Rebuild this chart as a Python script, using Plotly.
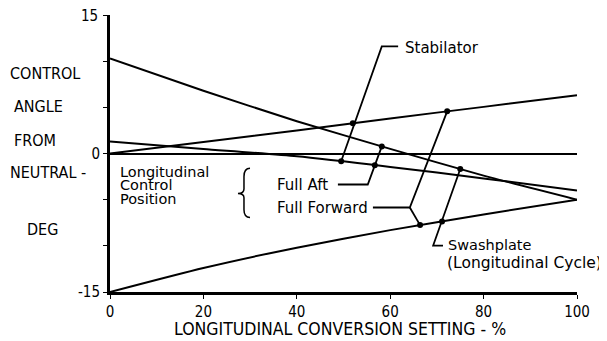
import numpy as np
import plotly.graph_objects as go

# ---- data ----
conversion_pct = [0, 20, 40, 60, 80, 100]
swash_full_aft = [10.3, 6.8, 3.5, 0.5, -2.4, -5.0]
swash_full_fwd = [-15.0, -12.4, -10.2, -8.3, -6.6, -5.0]
stab_full_fwd = [0.0, 1.25, 2.5, 3.8, 5.05, 6.3]
stab_full_aft = [1.3, 0.5, -0.3, -1.45, -2.7, -4.0]

y_tick_vals = [-15, -10, -5, 0, 5, 10, 15]
y_tick_text = ["-15", "", "", "0", "", "", ""]
y_top_label = "15"
x_tick_vals = [0, 20, 40, 60, 80, 100]
x_tick_text = ["0", "20", "40", "60", "80", "100"]

y_title_lines = ["CONTROL", "ANGLE", "FROM", "NEUTRAL -", "DEG"]
x_title = "LONGITUDINAL CONVERSION SETTING - %"

# callout marker x-positions on each curve
stab_label_x = {"fwd": 52.0, "aft": 49.5}
aft_label_x = {"stab": 56.7, "swash": 58.2}
fwd_label_x = {"stab": 72.2, "swash": 66.4}
swash_label_x = {"aft": 75.0, "fwd": 71.1}

NARROW = "Liberation Sans Narrow, DejaVu Sans Condensed, Arial Narrow, sans-serif"
SANS = "DejaVu Sans, Verdana, sans-serif"

def on(series, x):
    return float(np.interp(x, conversion_pct, series))

fig = go.Figure()
for ys in (swash_full_aft, swash_full_fwd, stab_full_fwd, stab_full_aft):
    fig.add_trace(go.Scatter(x=conversion_pct, y=ys, mode="lines",
                             line=dict(color="black", width=2, shape="spline", smoothing=0.6),
                             showlegend=False, hoverinfo="skip"))

# dots where leaders touch the curves
dots = [
    (stab_label_x["fwd"], on(stab_full_fwd, stab_label_x["fwd"])),
    (stab_label_x["aft"], on(stab_full_aft, stab_label_x["aft"])),
    (aft_label_x["stab"], on(stab_full_aft, aft_label_x["stab"])),
    (aft_label_x["swash"], on(swash_full_aft, aft_label_x["swash"])),
    (fwd_label_x["stab"], on(stab_full_fwd, fwd_label_x["stab"])),
    (fwd_label_x["swash"], on(swash_full_fwd, fwd_label_x["swash"])),
    (swash_label_x["aft"], on(swash_full_aft, swash_label_x["aft"])),
    (swash_label_x["fwd"], on(swash_full_fwd, swash_label_x["fwd"])),
]
fig.add_trace(go.Scatter(x=[d[0] for d in dots], y=[d[1] for d in dots], mode="markers",
                         marker=dict(color="black", size=6), showlegend=False,
                         hoverinfo="skip", cliponaxis=False))

def leader(points):
    fig.add_shape(type="path", xref="x", yref="y",
                  path="M " + " L ".join(f"{x},{y}" for x, y in points),
                  line=dict(color="black", width=1.8))

# Stabilator leader
leader([(61.7, 11.6), (58.2, 11.6), dots[1]])
# Full Aft leader
leader([(48.8, -3.36), (55.2, -3.36), dots[3]])
# Full Forward leader
leader([(56.3, -5.85), (64.2, -5.85), dots[4]])
leader([(64.2, -5.85), dots[5]])
# Swashplate leader
leader([(71.3, -9.97), (69.2, -9.97), dots[6]])

# curly brace
fig.add_shape(type="path", xref="x", yref="y",
              path="M 29.98,-1.6 Q 28.69,-1.6 28.69,-2.5 L 28.69,-3.85 "
                   "Q 28.69,-4.33 27.4,-4.33 Q 28.69,-4.33 28.69,-4.8 "
                   "L 28.69,-6.1 Q 28.69,-6.93 29.98,-6.93",
              line=dict(color="black", width=1.5))

def label(text, x, y, size=15, family=SANS, xanchor="left"):
    fig.add_annotation(x=x, y=y, xref="x", yref="y", text=text, showarrow=False,
                       xanchor=xanchor, yanchor="middle",
                       font=dict(family=family, size=size, color="black"))

def plabel(text, x, y, size=17, family=NARROW, xanchor="left"):
    fig.add_annotation(x=x, y=y, xref="paper", yref="paper", text=text, showarrow=False,
                       xanchor=xanchor, yanchor="middle",
                       font=dict(family=family, size=size, color="black"))

label("Stabilator", 62.7, 11.48)
label("Longitudinal", 1.7, -2.0, size=14.5)
label("Control", 1.7, -3.45, size=14.5)
label("Position", 1.7, -4.9, size=14.5)
label("Full Aft", 35.3, -3.36)
label("Full Forward", 35.3, -5.85)
label("Swashplate", 72.0, -9.86, size=14.5)
label("(Longitudinal Cycle)", 71.8, -11.9, size=15.5)

for txt, x, y in zip(y_title_lines,
                     [-0.2184, -0.2099, -0.2099, -0.2184, -0.182],
                     [0.7906, 0.6679, 0.5487, 0.4332, 0.2274]):
    plabel(txt, x, y, size=16)

# top tick label (placed as annotation so it is not dropped at the figure edge)
plabel(y_top_label, -0.021, 0.995, size=15, xanchor="right")

plabel(x_title, 0.4925, -0.135, size=17.5, xanchor="center")

# page body has an 8px margin: shrink the figure and margins to compensate
fig.update_layout(
    width=599, height=333,
    margin=dict(l=102, r=30, t=7, b=49),
    paper_bgcolor="white", plot_bgcolor="white",
    xaxis=dict(range=[0, 100], tickvals=x_tick_vals, ticktext=x_tick_text,
               showline=True, linecolor="black", linewidth=3, showgrid=False,
               zeroline=False, ticks="outside", ticklen=4, tickcolor="black",
               automargin=False,
               tickfont=dict(family=NARROW, size=15, color="black")),
    yaxis=dict(range=[-15, 15], tickvals=y_tick_vals, ticktext=y_tick_text,
               showline=True, linecolor="black", linewidth=3, showgrid=False,
               zeroline=True, zerolinecolor="black", zerolinewidth=2,
               ticks="outside", ticklen=4, tickcolor="black",
               automargin=False,
               tickfont=dict(family=NARROW, size=15, color="black")),
)

fig.write_html("out.html")
